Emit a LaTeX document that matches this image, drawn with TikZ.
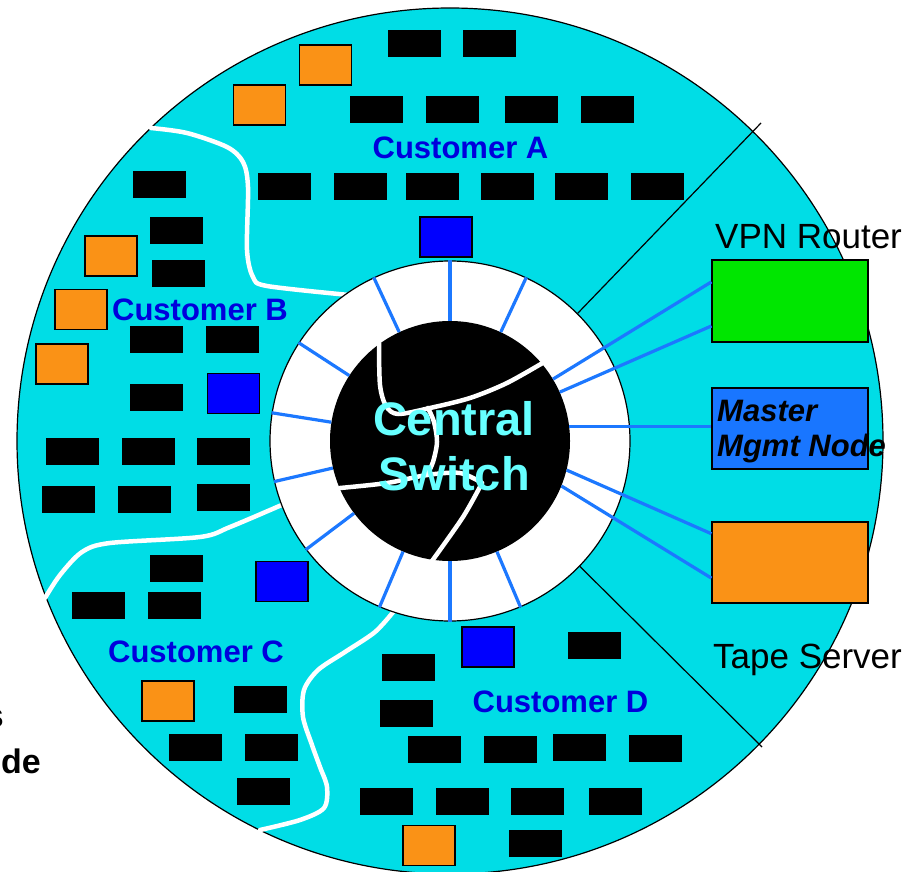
\documentclass[tikz,border=0pt]{standalone}
\usepackage{fontspec}
\setmainfont{Liberation Sans}
\usetikzlibrary{calc}
\definecolor{bgc}{RGB}{0,221,230}
\definecolor{spokec}{RGB}{28,120,255}
\definecolor{orangec}{RGB}{250,146,22}
\definecolor{bluec}{RGB}{0,0,255}
\definecolor{greenc}{RGB}{0,230,0}
\definecolor{mgmtc}{RGB}{25,118,255}
\definecolor{custc}{RGB}{0,0,220}
\definecolor{swtxt}{RGB}{102,255,255}
\begin{document}
\begin{tikzpicture}[x=1pt,y=-1pt,
  pc/.style={fill=black, minimum width=53pt, minimum height=27pt, inner sep=0pt, outer sep=0pt},
  stor/.style={fill=orangec, draw=black, line width=1.2pt, minimum width=52pt, minimum height=40pt, inner sep=0pt},
  srv/.style={fill=bluec, draw=black, line width=1.2pt, minimum width=52pt, minimum height=40pt, inner sep=0pt},
  bigbox/.style={draw=black, line width=1.2pt, minimum width=156pt, minimum height=81pt, inner sep=0pt},
  spoke/.style={draw=spokec, line width=3.2pt},
  wline/.style={draw=white, line width=4.5pt, line cap=round, line join=round},
  custlabel/.style={text=custc, font=\bfseries\fontsize{31}{37}\selectfont, anchor=base, inner sep=0pt},
  devlabel/.style={text=black, font=\fontsize{35}{42}\selectfont, anchor=base west, inner sep=0pt},
  mlabel/.style={text=black, font=\bfseries\itshape\fontsize{31}{37}\selectfont, anchor=base west, inner sep=0pt},
  swlabel/.style={text=swtxt, font=\bfseries\fontsize{47}{55}\selectfont, anchor=base, inner sep=0pt},
  cutlabel/.style={text=black, font=\bfseries\fontsize{34}{40}\selectfont, anchor=base east, inner sep=0pt}
]
\useasboundingbox (0,0) rectangle (913,872);

% outer disc
\node[circle, minimum size=866pt, inner sep=0pt, fill=bgc, draw=black, line width=1.2pt] (outer) at (450,441) {};

% customer boundaries
\draw[wline] plot[smooth, tension=0.5] coordinates {(151,128) (187,133) (227,147) (243,162) (248,187) (247,250) (253,277) (267,286) (349,295)};
\draw[wline] plot[smooth, tension=0.5] coordinates {(45,598) (60,575) (82,552) (110,543) (200,537) (230,527) (284,504)};
\draw[wline] plot[smooth, tension=0.5] coordinates {(394,611) (375,632) (345,652) (318,670) (304,690) (303,717) (312,745) (320,767) (327,787) (324,808) (300,820) (260,830)};

% ring
\node[circle, minimum size=360pt, inner sep=0pt, fill=white, draw=black, line width=1.2pt] (ring) at (450,441) {};

% sector separators
\coordinate (d1) at (761,123);
\coordinate (d2) at (762,747);
\draw[black, line width=1.2pt] (ring.45) -- (d1);
\draw[black, line width=1.2pt] (ring.-44) -- (d2);

% central switch
\node[circle, minimum size=240pt, inner sep=0pt, fill=black] (sw) at (450,441) {};

% spokes
\foreach \a in {65,90,115,147,171,193,217,247,270,293}
  \draw[spoke] (sw.\a) -- (ring.\a);

% inner white curves
\draw[wline] plot[smooth, tension=0.5] coordinates {(379,343) (380,385) (386,406) (398,414) (430,408) (470,398) (507,383) (546,361)};
\draw[wline] plot[smooth, tension=0.5] coordinates {(428,408) (434,422) (437,442) (433,462) (427,475)};
\draw[wline] plot[smooth, tension=0.5] coordinates {(340,488) (387,483) (427,475) (460,473) (482,483)};
\draw[wline] plot[smooth, tension=0.5] coordinates {(482,483) (463,517) (432,561)};

\node[swlabel] (swt1) at (454,435) {Central};
\node[swlabel] (swt2) at (454,490) {Switch};

% right-side devices
\node[bigbox, fill=greenc, minimum height=82pt] (vpn) at (790,301) {};
\node[bigbox, fill=mgmtc] (master) at (790,428.5) {};
\node[bigbox, fill=orangec] (tape) at (790,562.5) {};

\coordinate (v1) at ($(vpn.north west)!0.27!(vpn.south west)$);
\coordinate (v2) at ($(vpn.north west)!0.80!(vpn.south west)$);
\coordinate (t1) at ($(tape.north west)!0.15!(tape.south west)$);
\coordinate (t2) at ($(tape.north west)!0.69!(tape.south west)$);
\draw[spoke] (sw.31) -- (v1);
\draw[spoke] (sw.24) -- (v2);
\draw[spoke] (sw.7) -- (sw.7 -| master.west);
\draw[spoke] (sw.-14) -- (t1);
\draw[spoke] (sw.-22) -- (t2);

\node[devlabel] (vpnt) at (715,248) {VPN Router};
\node[mlabel] (mt1) at (717,421) {Master};
\node[mlabel] (mt2) at (717,456) {Mgmt Node};
\node[devlabel] (tapet) at (713,668) {Tape Server};

% Customer A
\foreach \x/\y [count=\i] in {414.5/44, 489.5/44, 376.5/110, 452.5/110, 531.5/110, 607.5/110,
  284.5/186, 360/186, 432/186, 507.5/186, 581.5/186, 657.5/186}
  \node[pc] (pa\i) at (\x,\y) {};
\node[stor] (sa1) at (325.5,65) {};
\node[stor] (sa2) at (259.5,105) {};
\node[srv] (ba) at (446,237) {};

% Customer B
\foreach \x/\y [count=\i] in {159.5/184, 176/230, 178.5/273.5, 156.5/339.5, 232.5/339.5, 156.5/397.5,
  72.5/451.5, 148.5/451.5, 223.5/451.5, 68.5/499.5, 144.5/499.5, 223.5/497}
  \node[pc] (pb\i) at (\x,\y) {};
\node[stor] (sb1) at (111,256) {};
\node[stor] (sb2) at (81,309.5) {};
\node[stor] (sb3) at (62,364) {};
\node[srv] (bb) at (233.5,393.5) {};

% Customer C
\foreach \x/\y [count=\i] in {176.5/568, 98.5/605.5, 174.5/605.5, 260.5/699.5, 195.5/747, 271.5/747, 263.5/791}
  \node[pc] (pc\i) at (\x,\y) {};
\node[srv] (bc) at (282,581.5) {};
\node[stor] (sc1) at (168,701) {};

% Customer D
\foreach \x/\y [count=\i] in {594/645.5, 408/667, 406/713, 434/749, 510.5/749, 579.5/747.5, 655.5/748,
  386.5/801.5, 462.5/801.5, 537.5/801.5, 615.5/801.5, 535.5/843.5}
  \node[pc] (pd\i) at (\x,\y) {};
\node[srv] (bd) at (488,647) {};
\node[stor] (sd1) at (429,845.5) {};

% customer labels
\node[custlabel] (ca) at (460.5,158) {Customer A};
\node[custlabel] (cb) at (200,320) {Customer B};
\node[custlabel] (cc) at (196,662) {Customer C};
\node[custlabel] (cd) at (560.5,712) {Customer D};

% cut-off text at left edge
\node[cutlabel] (cut1) at (4,727) {s};
\node[cutlabel] (cut2) at (41,773) {de};
\end{tikzpicture}
\end{document}
